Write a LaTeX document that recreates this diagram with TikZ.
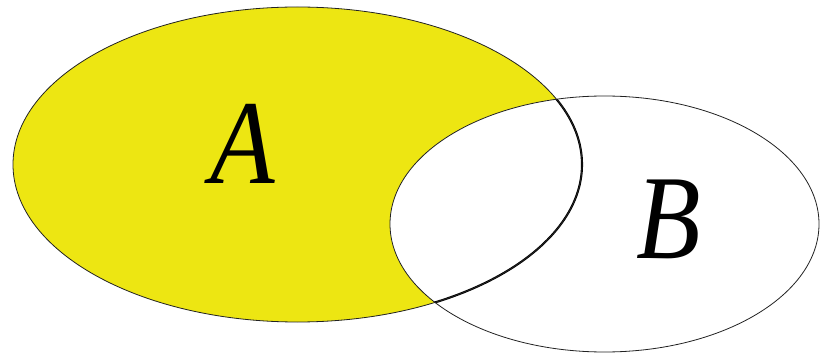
\documentclass[tikz,border=0pt]{standalone}
\usepackage{fontspec}
\setmainfont{Liberation Serif}
\newfontfamily\labelfont{Liberation Serif Italic}
\usepackage{xcolor}
\definecolor{setyellow}{HTML}{EDE612}
\definecolor{setline}{HTML}{222222}

\begin{document}
\begin{tikzpicture}[x=1pt,y=-1pt,
    outline/.style={draw=setline,line width=0.8pt},
    inner/.style={draw=black,line width=2.1pt},
    setlabel/.style={font=\fontsize{120}{120}\selectfont\labelfont,inner sep=0pt}
]
\useasboundingbox (0,0) rectangle (821,355);
% sets
\fill[setyellow] (297.5,164.5) ellipse [x radius=284.5,y radius=157.5];
\fill[white] (604.5,224) ellipse [x radius=214.5,y radius=128];
\begin{scope}
  \clip (604.5,224) ellipse [x radius=214.5,y radius=128];
  \draw[inner] (297.5,164.5) ellipse [x radius=284.5,y radius=157.5];
\end{scope}
\draw[outline] (297.5,164.5) ellipse [x radius=284.5,y radius=157.5];
\draw[outline] (604.5,224) ellipse [x radius=214.5,y radius=128];
% labels
\node[setlabel,xscale=0.88] (labA) at (243,144) {A};
\node[setlabel,xscale=0.88] (labB) at (669,219) {B};
\end{tikzpicture}
\end{document}
